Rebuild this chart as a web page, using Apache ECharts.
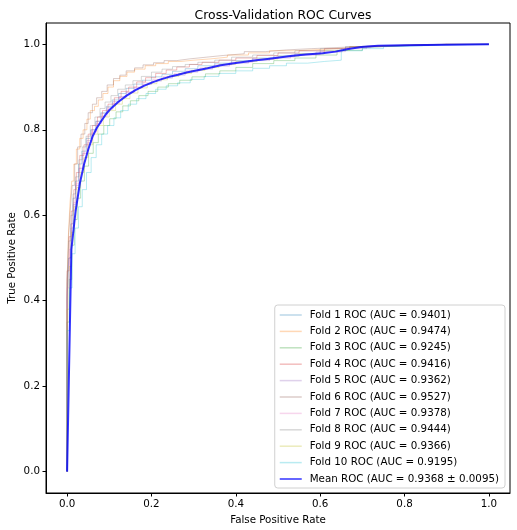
<!DOCTYPE html>
<html><head><meta charset="utf-8">
<script src="https://cdn.jsdelivr.net/npm/echarts@6/dist/echarts.min.js"></script>
<style>html,body{margin:0;padding:0;background:#fff}#c{width:517px;height:530px}</style>
</head><body><div id="c"></div>
<script>
const foldNames = ['Fold 1 ROC (AUC = 0.9401)','Fold 2 ROC (AUC = 0.9474)','Fold 3 ROC (AUC = 0.9245)','Fold 4 ROC (AUC = 0.9416)','Fold 5 ROC (AUC = 0.9362)','Fold 6 ROC (AUC = 0.9527)','Fold 7 ROC (AUC = 0.9378)','Fold 8 ROC (AUC = 0.9444)','Fold 9 ROC (AUC = 0.9366)','Fold 10 ROC (AUC = 0.9195)'];
const meanName = 'Mean ROC (AUC = 0.9368 \u00b1 0.0095)';
const foldColors = ['rgba(31,119,180,0.3)','rgba(255,127,14,0.3)','rgba(44,160,44,0.3)','rgba(214,39,40,0.3)','rgba(148,103,189,0.3)','rgba(140,86,75,0.3)','rgba(227,119,194,0.3)','rgba(127,127,127,0.3)','rgba(188,189,34,0.3)','rgba(23,190,207,0.3)'];
const tickValues = [0, 0.2, 0.4, 0.6, 0.8, 1.0];

const fold1 = [[0,0],[0,0.25],[0.004,0.4],[0.009,0.5],[0.014,0.58],[0.02,0.64],[0.027,0.68],[0.035,0.72],[0.045,0.75],[0.056,0.78],[0.068,0.8],[0.08,0.82],[0.093,0.84],[0.107,0.855],[0.122,0.87],[0.14,0.885],[0.158,0.897],[0.178,0.907],[0.2,0.916],[0.225,0.924],[0.25,0.93],[0.28,0.937],[0.31,0.943],[0.35,0.95],[0.39,0.956],[0.44,0.962],[0.49,0.968],[0.54,0.973],[0.6,0.978],[0.66,0.985],[0.72,0.993],[0.8,0.997],[0.9,1],[1,1]];
const fold2 = [[0,0],[0,0.28],[0.003,0.42],[0.007,0.55],[0.011,0.63],[0.016,0.68],[0.022,0.72],[0.03,0.755],[0.038,0.78],[0.047,0.8],[0.055,0.825],[0.065,0.845],[0.074,0.855],[0.085,0.87],[0.097,0.885],[0.11,0.9],[0.125,0.915],[0.142,0.925],[0.16,0.935],[0.185,0.942],[0.21,0.95],[0.24,0.955],[0.27,0.96],[0.3,0.963],[0.34,0.966],[0.38,0.97],[0.43,0.975],[0.48,0.98],[0.54,0.985],[0.6,0.988],[0.67,0.992],[0.74,0.996],[0.82,0.998],[0.9,1],[1,1]];
const fold3 = [[0,0],[0,0.2],[0.005,0.35],[0.011,0.45],[0.017,0.53],[0.024,0.59],[0.032,0.64],[0.041,0.68],[0.051,0.715],[0.062,0.745],[0.074,0.77],[0.087,0.79],[0.101,0.81],[0.116,0.826],[0.132,0.842],[0.15,0.856],[0.17,0.868],[0.192,0.88],[0.215,0.89],[0.24,0.9],[0.267,0.908],[0.296,0.916],[0.328,0.924],[0.362,0.931],[0.4,0.938],[0.44,0.946],[0.49,0.955],[0.54,0.962],[0.59,0.968],[0.64,0.975],[0.7,0.986],[0.76,0.995],[0.85,0.999],[1,1]];
const fold4 = [[0,0],[0,0.35],[0.005,0.47],[0.01,0.55],[0.016,0.61],[0.022,0.66],[0.03,0.7],[0.04,0.74],[0.05,0.765],[0.06,0.79],[0.072,0.81],[0.084,0.83],[0.097,0.845],[0.112,0.86],[0.128,0.875],[0.146,0.89],[0.165,0.9],[0.186,0.912],[0.21,0.922],[0.235,0.932],[0.26,0.94],[0.29,0.947],[0.32,0.953],[0.36,0.958],[0.4,0.963],[0.45,0.968],[0.5,0.974],[0.55,0.98],[0.61,0.985],[0.67,0.99],[0.74,0.995],[0.82,0.998],[0.9,1],[1,1]];
const fold5 = [[0,0],[0,0.28],[0.004,0.41],[0.009,0.5],[0.014,0.57],[0.02,0.625],[0.028,0.67],[0.037,0.71],[0.047,0.745],[0.058,0.775],[0.069,0.8],[0.081,0.82],[0.094,0.838],[0.108,0.852],[0.123,0.866],[0.14,0.878],[0.158,0.888],[0.178,0.898],[0.2,0.906],[0.224,0.914],[0.25,0.921],[0.28,0.928],[0.31,0.935],[0.345,0.942],[0.385,0.949],[0.43,0.956],[0.48,0.962],[0.53,0.968],[0.59,0.975],[0.65,0.982],[0.71,0.99],[0.78,0.996],[0.88,1],[1,1]];
const fold6 = [[0,0],[0,0.32],[0.004,0.45],[0.008,0.56],[0.012,0.62],[0.018,0.67],[0.025,0.72],[0.033,0.76],[0.042,0.79],[0.05,0.815],[0.06,0.84],[0.07,0.86],[0.082,0.875],[0.095,0.89],[0.11,0.905],[0.125,0.92],[0.14,0.928],[0.16,0.938],[0.18,0.945],[0.205,0.952],[0.23,0.957],[0.26,0.962],[0.29,0.966],[0.33,0.97],[0.37,0.974],[0.42,0.978],[0.47,0.983],[0.52,0.987],[0.58,0.99],[0.65,0.993],[0.72,0.996],[0.8,0.998],[0.88,1],[1,1]];
const fold7 = [[0,0],[0,0.3],[0.005,0.43],[0.01,0.52],[0.015,0.58],[0.021,0.63],[0.029,0.675],[0.038,0.71],[0.048,0.745],[0.059,0.77],[0.07,0.795],[0.082,0.815],[0.095,0.832],[0.109,0.848],[0.124,0.862],[0.141,0.876],[0.16,0.888],[0.18,0.9],[0.203,0.91],[0.228,0.918],[0.254,0.925],[0.283,0.932],[0.315,0.938],[0.35,0.945],[0.39,0.952],[0.44,0.958],[0.49,0.965],[0.54,0.97],[0.6,0.976],[0.66,0.983],[0.72,0.992],[0.8,0.997],[0.9,1],[1,1]];
const fold8 = [[0,0],[0,0.3],[0.004,0.44],[0.009,0.54],[0.014,0.6],[0.02,0.65],[0.028,0.69],[0.036,0.73],[0.045,0.76],[0.055,0.785],[0.066,0.81],[0.078,0.83],[0.09,0.85],[0.104,0.865],[0.12,0.88],[0.138,0.895],[0.156,0.905],[0.176,0.915],[0.2,0.925],[0.225,0.935],[0.25,0.942],[0.28,0.948],[0.31,0.953],[0.35,0.958],[0.39,0.963],[0.44,0.97],[0.49,0.975],[0.54,0.98],[0.6,0.985],[0.66,0.99],[0.73,0.995],[0.8,0.998],[0.9,1],[1,1]];
const fold9 = [[0,0],[0,0.22],[0.005,0.38],[0.01,0.48],[0.016,0.56],[0.023,0.62],[0.031,0.665],[0.04,0.7],[0.05,0.735],[0.061,0.765],[0.073,0.79],[0.086,0.81],[0.1,0.83],[0.115,0.845],[0.131,0.86],[0.149,0.873],[0.168,0.886],[0.19,0.898],[0.213,0.908],[0.238,0.917],[0.265,0.925],[0.295,0.932],[0.327,0.939],[0.36,0.946],[0.4,0.953],[0.45,0.96],[0.5,0.966],[0.55,0.972],[0.61,0.978],[0.67,0.986],[0.73,0.994],[0.8,0.998],[0.9,1],[1,1]];
const fold10 = [[0,0],[0,0.18],[0.006,0.33],[0.012,0.43],[0.019,0.51],[0.027,0.57],[0.036,0.62],[0.046,0.66],[0.057,0.7],[0.069,0.735],[0.082,0.765],[0.096,0.79],[0.111,0.81],[0.127,0.828],[0.145,0.845],[0.165,0.86],[0.187,0.873],[0.21,0.885],[0.235,0.895],[0.262,0.903],[0.292,0.91],[0.325,0.918],[0.36,0.925],[0.4,0.932],[0.44,0.938],[0.48,0.944],[0.52,0.95],[0.57,0.956],[0.61,0.96],[0.65,0.963],[0.652,0.978],[0.7,0.985],[0.75,0.99],[0.8,0.995],[0.9,0.999],[1,1]];
const meanRoc = [[0,0],[0.0101,0.52],[0.0202,0.61],[0.0303,0.675],[0.0404,0.72],[0.0505,0.755],[0.0606,0.785],[0.0707,0.805],[0.0808,0.82],[0.0909,0.835],[0.101,0.847],[0.121,0.865],[0.141,0.88],[0.162,0.893],[0.182,0.903],[0.202,0.911],[0.222,0.918],[0.242,0.924],[0.263,0.929],[0.283,0.934],[0.303,0.938],[0.333,0.944],[0.364,0.951],[0.404,0.957],[0.444,0.962],[0.485,0.967],[0.525,0.972],[0.566,0.976],[0.606,0.979],[0.636,0.983],[0.667,0.989],[0.697,0.994],[0.737,0.997],[0.8,0.998],[0.9,0.999],[1,1]];

const folds = [fold1, fold2, fold3, fold4, fold5, fold6, fold7, fold8, fold9, fold10];

const chart = echarts.init(document.getElementById('c'), null, {renderer: 'canvas'});
const font = 'DejaVu Sans';
const series = folds.map((d, i) => ({
  name: foldNames[i], type: 'line', data: d, step: 'start', showSymbol: false, symbol: 'none',
  lineStyle: {color: foldColors[i], width: 1}, itemStyle: {color: foldColors[i]},
  silent: true, animation: false, z: 2
}));
series.push({
  name: meanName, type: 'line', data: meanRoc, showSymbol: false, symbol: 'none',
  lineStyle: {color: 'rgba(0,0,255,0.8)', width: 2}, itemStyle: {color: 'rgba(0,0,255,0.8)'},
  silent: true, animation: false, z: 3
});

const axisCommon = {
  type: 'value', min: -0.05, max: 1.05,
  axisLine: {show: true, onZero: false, lineStyle: {color: '#000', width: 1}},
  axisTick: {show: true, inside: false, length: 3.5, lineStyle: {color: '#000'}, customValues: tickValues},
  axisLabel: {color: '#000', fontSize: 10.3, fontFamily: font, customValues: tickValues, formatter: v => v.toFixed(1), margin: 6},
  splitLine: {show: false},
  nameLocation: 'middle',
  nameMoveOverlap: false,
  nameTextStyle: {color: '#000', fontSize: 10.3, fontFamily: font}
};

const legendData = foldNames.map(n => ({name: n, icon: 'rect'})).concat([{name: meanName, icon: 'rect'}]);

chart.setOption({
  animation: false,
  backgroundColor: '#fff',
  title: {text: 'Cross-Validation ROC Curves', left: 278, top: 5, textAlign: 'center',
    textStyle: {fontSize: 12.4, fontWeight: 'normal', color: '#000', fontFamily: font}},
  grid: {left: 46, right: 7, top: 23, bottom: 37, show: true, borderColor: '#000', borderWidth: 1, containLabel: false, outerBoundsMode: 'none'},
  xAxis: Object.assign({}, axisCommon, {name: 'False Positive Rate', nameGap: 22}),
  yAxis: Object.assign({}, axisCommon, {name: 'True Positive Rate', nameGap: 29}),
  legend: {
    orient: 'vertical', right: 12, bottom: 42,
    data: legendData,
    itemWidth: 22, itemHeight: 1.5, itemGap: 4.4,
    padding: [4, 6, 3, 5],
    backgroundColor: 'rgba(255,255,255,0.8)', borderColor: '#d0d0d0', borderWidth: 1, borderRadius: 3,
    textStyle: {color: '#000', fontSize: 10.3, fontFamily: font, lineHeight: 12, padding: [0, 0, 0, 3]},
    selectedMode: false
  },
  series: series
});
</script></body></html>
